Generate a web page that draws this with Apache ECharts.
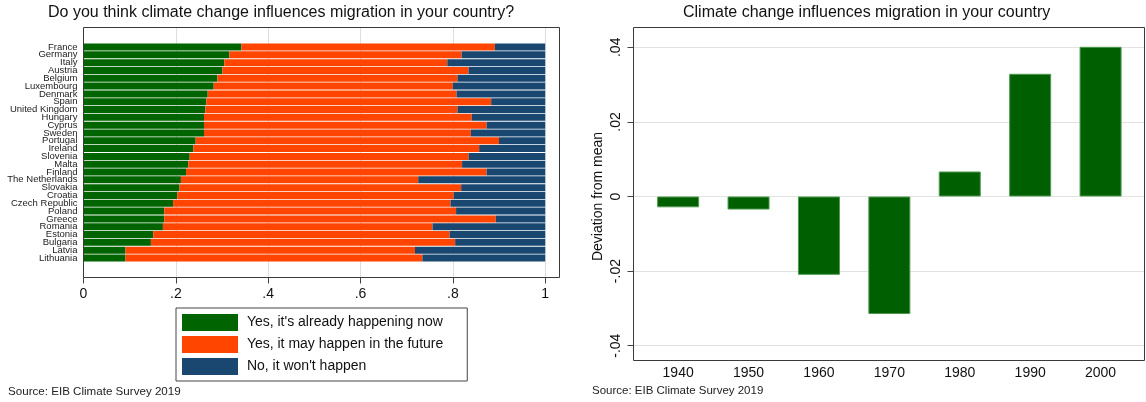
<!DOCTYPE html>
<html><head><meta charset="utf-8">
<script src="https://cdn.jsdelivr.net/npm/echarts@6/dist/echarts.min.js"></script>
<style>html,body{margin:0;padding:0;background:#fff}#c{width:1146px;height:402px}</style>
</head><body><div id="c"></div>
<script>
// ---- Left chart data (shares) ----
const countries = ['France','Germany','Italy','Austria','Belgium','Luxembourg','Denmark','Spain','United Kingdom','Hungary','Cyprus','Sweden','Portugal','Ireland','Slovenia','Malta','Finland','The Netherlands','Slovakia','Croatia','Czech Republic','Poland','Greece','Romania','Estonia','Bulgaria','Latvia','Lithuania'];
const yesNow    = [0.342,0.316,0.305,0.301,0.290,0.282,0.269,0.266,0.264,0.261,0.261,0.261,0.243,0.238,0.230,0.227,0.222,0.211,0.208,0.203,0.194,0.175,0.175,0.172,0.151,0.146,0.091,0.091];
const yesFuture = [0.549,0.503,0.483,0.533,0.520,0.518,0.539,0.617,0.546,0.580,0.612,0.578,0.657,0.619,0.604,0.593,0.651,0.514,0.610,0.599,0.601,0.632,0.718,0.584,0.642,0.659,0.627,0.643];
const noWont    = [0.109,0.181,0.212,0.166,0.190,0.200,0.192,0.117,0.190,0.159,0.127,0.161,0.100,0.143,0.166,0.180,0.127,0.275,0.182,0.198,0.205,0.193,0.107,0.244,0.207,0.195,0.282,0.266];
const seriesNames = ["Yes, it's already happening now", 'Yes, it may happen in the future', "No, it won't happen"];
const shareTicks = [0, 0.2, 0.4, 0.6, 0.8, 1];

// ---- Right chart data ----
const cohorts = [1940, 1950, 1960, 1970, 1980, 1990, 2000];
const deviation = [-0.0029, -0.0035, -0.021, -0.0315, 0.0067, 0.0329, 0.0415];

const FONT = 'Liberation Sans, Arial, sans-serif';
const PAD = 2;
const padArr = n => Array(n).fill('');
const cats = padArr(PAD).concat(countries, padArr(PAD));
const padData = arr => padArr(PAD).map(()=>'-').concat(arr, padArr(PAD).map(()=>'-'));
const stripZero = v => {
  if (Math.abs(v) < 1e-9) return '0';
  let s = String(+v.toFixed(2));
  return s.replace(/^(-?)0\./, '$1.');
};

const chart = echarts.init(document.getElementById('c'), null, {renderer: 'canvas'});
const colors = ['#006400', '#ff4500', '#1a476f'];
const leftSeries = [yesNow, yesFuture, noWont].map((arr, i) => ({
  name: seriesNames[i], type: 'bar', stack: 'share', xAxisIndex: 0, yAxisIndex: 0,
  barCategoryGap: '10%', data: padData(arr), itemStyle: {color: colors[i]},
  emphasis: {disabled: true}, silent: true
}));

chart.setOption({
  animation: false,
  textStyle: {fontFamily: FONT},
  title: [
    {text: 'Do you think climate change influences migration in your country?', left: 48, top: 5, padding: 0,
     textStyle: {fontSize: 16, fontWeight: 'normal', color: '#111', fontFamily: FONT}},
    {text: 'Climate change influences migration in your country', left: 683, top: 5, padding: 0,
     textStyle: {fontSize: 16, fontWeight: 'normal', color: '#111', fontFamily: FONT}}
  ],
  legend: {
    data: seriesNames, orient: 'vertical', left: 176, top: 308, selectedMode: false,
    itemWidth: 56, itemHeight: 17, itemGap: 5, padding: [6, 24, 6, 6],
    borderColor: '#444', borderWidth: 1, icon: 'rect',
    formatter: name => ' ' + name,
    textStyle: {fontSize: 14, color: '#111', fontFamily: FONT}
  },
  grid: [
    {left: 83.5, right: 1146 - 559.5, top: 27.5, bottom: 402 - 277.5},
    {left: 633.5, right: 1146 - 1144.5, top: 47.3, bottom: 402 - 345.7}
  ],
  xAxis: [
    {gridIndex: 0, type: 'value', min: 0, max: 1.031, interval: 0.2,
     axisLine: {show: false},
     axisTick: {show: true, length: 6, customValues: shareTicks, lineStyle: {color: '#444'}},
     axisLabel: {customValues: shareTicks, margin: 10, fontSize: 14, color: '#111',
                 formatter: v => v > 1.0001 ? '' : stripZero(v)},
     splitLine: {show: true, lineStyle: {color: '#dedede', width: 1}}},
    {gridIndex: 1, type: 'value', min: 1933.66, max: 2006.24,
     axisLine: {show: false}, axisTick: {show: false}, splitLine: {show: false},
     axisLabel: {customValues: cohorts, margin: 20, fontSize: 14, color: '#111', formatter: v => String(v)}}
  ],
  yAxis: [
    {gridIndex: 0, type: 'category', inverse: true, data: cats,
     axisLine: {show: false}, axisTick: {show: false}, splitLine: {show: false},
     axisLabel: {interval: 0, fontSize: 9.5, lineHeight: 9, margin: 6, color: '#222'}},
    {gridIndex: 1, type: 'value', min: -0.04, max: 0.04, interval: 0.02,
     name: 'Deviation from mean', nameLocation: 'middle', nameGap: 28,
     nameTextStyle: {fontSize: 14, color: '#111', fontFamily: FONT},
     axisLine: {show: false},
     axisTick: {show: true, length: 6, lineStyle: {color: '#444'}},
     axisLabel: {rotate: 90, margin: 10, fontSize: 14, color: '#111', formatter: v => stripZero(v)},
     splitLine: {show: true, lineStyle: {color: '#e2e2e2', width: 1}}}
  ],
  series: leftSeries.concat([
    {type: 'bar', xAxisIndex: 1, yAxisIndex: 1, barWidth: 42,
     data: cohorts.map((c, i) => [c, deviation[i]]),
     itemStyle: {color: '#005f00', borderColor: '#4f9a4f', borderWidth: 1},
     emphasis: {disabled: true}, silent: true}
  ]),
  graphic: [
    {type: 'rect', z: 100, silent: true, shape: {x: 83.5, y: 27.5, width: 476, height: 250},
     style: {fill: 'none', stroke: '#3a3a3a', lineWidth: 1}},
    {type: 'rect', z: 100, silent: true, shape: {x: 633.5, y: 27.5, width: 511, height: 333},
     style: {fill: 'none', stroke: '#3a3a3a', lineWidth: 1}},
    {type: 'text', left: 8, top: 386, style: {text: 'Source: EIB Climate Survey 2019', fill: '#222', font: '11.6px Liberation Sans, Arial, sans-serif'}},
    {type: 'text', left: 592, top: 385, style: {text: 'Source: EIB Climate Survey 2019', fill: '#222', font: '11.5px Liberation Sans, Arial, sans-serif'}}
  ]
});
</script>
</body></html>
